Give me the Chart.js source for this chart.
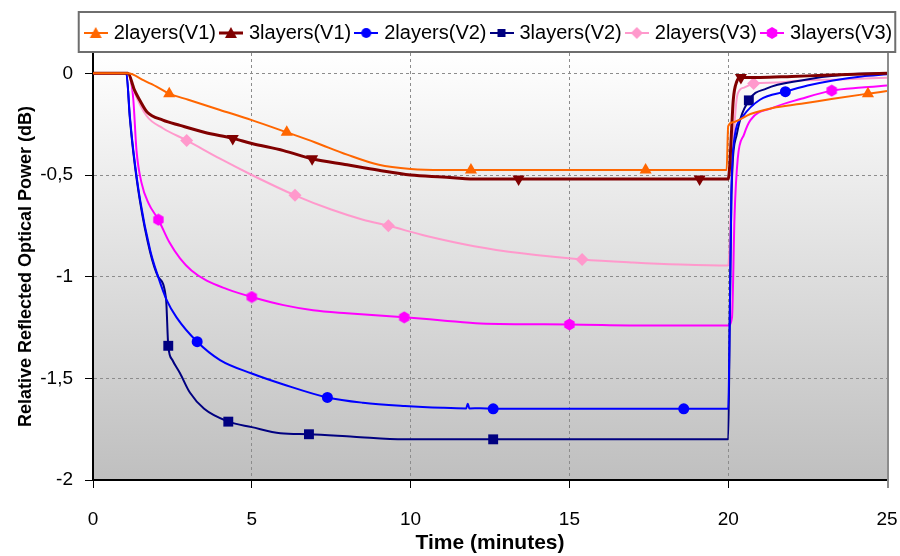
<!DOCTYPE html>
<html>
<head>
<meta charset="utf-8">
<script src="https://cdn.jsdelivr.net/npm/chart.js@4.4.1/dist/chart.umd.min.js"></script>
<style>
  body { margin: 0; background: #fff; }
  #wrap { width: 900px; height: 556px; }
</style>
</head>
<body>
<div id="wrap"><canvas id="chart" width="900" height="556"></canvas></div>
<script>
// Series names
const seriesNames = ['2layers(V1)', '3layers(V1)', '2layers(V2)', '3layers(V2)', '2layers(V3)', '3layers(V3)'];

// 2layers(V1)
const time2V1 = [0, 1.1, 1.6, 2.0, 2.4, 3.0, 4.0, 5.0, 6.1, 7.0, 8.0, 9.0, 10.0, 11.0, 11.9, 14.0, 17.4, 19.95, 20.0, 20.15, 20.7, 21.4, 22.3, 23.3, 24.4, 25];
const power2V1 = [0, 0, -0.035, -0.065, -0.1, -0.13, -0.18, -0.23, -0.29, -0.34, -0.4, -0.45, -0.47, -0.475, -0.475, -0.475, -0.475, -0.475, -0.26, -0.24, -0.2, -0.17, -0.15, -0.125, -0.1, -0.087];
const marks2V1 = [2.4, 6.1, 11.9, 17.4, 24.4];

// 3layers(V1)
const time3V1 = [0, 1.1, 1.3, 1.5, 1.7, 2.2, 2.74, 3.5, 4.4, 5.0, 6.0, 6.9, 8.0, 9.0, 10.0, 11.0, 12.0, 13.4, 16.0, 19.1, 20.0, 20.05, 20.1, 20.16, 20.27, 20.4, 21.0, 22.0, 23.0, 24.0, 25];
const power3V1 = [0, 0, -0.08, -0.14, -0.19, -0.23, -0.256, -0.29, -0.32, -0.345, -0.38, -0.42, -0.45, -0.477, -0.5, -0.51, -0.52, -0.52, -0.52, -0.52, -0.52, -0.45, -0.3, -0.13, -0.04, -0.02, -0.02, -0.015, -0.01, -0.005, 0];
const marks3V1 = [4.4, 6.9, 13.4, 19.1, 20.4];

// 2layers(V2)
const time2V2 = [0, 1.05, 1.16, 1.27, 1.48, 1.8, 2.05, 2.32, 2.63, 3.28, 4.0, 5.0, 6.0, 7.38, 8.5, 9.82, 11.0, 11.75, 11.8, 11.85, 12.2, 12.6, 15.0, 18.6, 20.0, 20.05, 20.1, 20.15, 20.47, 21.0, 21.8, 22.5, 23.3, 24.2, 25];
const power2V2 = [0, 0, -0.21, -0.38, -0.62, -0.87, -1.0, -1.115, -1.2, -1.32, -1.41, -1.476, -1.53, -1.594, -1.62, -1.636, -1.645, -1.648, -1.625, -1.648, -1.647, -1.65, -1.65, -1.65, -1.65, -1.2, -0.6, -0.38, -0.21, -0.13, -0.09, -0.06, -0.035, -0.015, -0.005];
const marks2V2 = [3.28, 7.38, 12.6, 18.6, 21.8];

// 3layers(V2)
const time3V2 = [0, 1.05, 1.16, 1.27, 1.48, 1.8, 2.05, 2.3, 2.37, 2.5, 2.74, 3.05, 3.5, 4.26, 5.0, 5.9, 6.8, 8.2, 9.8, 12.6, 16.0, 20.0, 20.05, 20.1, 20.27, 20.65, 21.2, 22.3, 23.8, 25];
const power3V2 = [0, 0, -0.22, -0.39, -0.63, -0.88, -1.0, -1.11, -1.34, -1.41, -1.475, -1.57, -1.65, -1.713, -1.74, -1.77, -1.775, -1.787, -1.8, -1.8, -1.8, -1.8, -1.2, -0.6, -0.3, -0.133, -0.075, -0.035, -0.005, 0];
const marks3V2 = [2.37, 4.26, 6.8, 12.6, 20.65];

// 2layers(V3)
const time2V3 = [0, 1.1, 1.27, 1.69, 2.2, 2.95, 4.0, 5.0, 6.36, 7.5, 8.5, 9.3, 10.5, 12.0, 13.5, 15.4, 17.0, 18.5, 20.0, 20.1, 20.2, 20.3, 20.5, 20.8, 21.5, 22.3, 23.5, 25];
const power2V3 = [0, 0, -0.08, -0.21, -0.27, -0.33, -0.42, -0.5, -0.6, -0.67, -0.72, -0.75, -0.8, -0.85, -0.885, -0.915, -0.93, -0.94, -0.945, -0.6, -0.25, -0.1, -0.07, -0.05, -0.045, -0.035, -0.03, -0.022];
const marks2V3 = [2.95, 6.36, 9.3, 15.4, 20.8];

// 3layers(V3)
const time3V3 = [0, 1.1, 1.2, 1.27, 1.37, 1.53, 1.75, 2.06, 2.4, 2.74, 3.1, 3.58, 4.2, 5.0, 6.0, 6.93, 8.0, 9.8, 11.0, 12.2, 15.0, 17.5, 20.0, 20.12, 20.2, 20.3, 20.5, 20.7, 21.4, 22.3, 23.26, 24.2, 25];
const power3V3 = [0, 0, -0.04, -0.13, -0.38, -0.54, -0.64, -0.72, -0.83, -0.91, -0.97, -1.02, -1.06, -1.1, -1.14, -1.165, -1.18, -1.2, -1.215, -1.23, -1.235, -1.24, -1.24, -1.2, -0.7, -0.42, -0.3, -0.23, -0.17, -0.125, -0.085, -0.07, -0.06];
const marks3V3 = [2.06, 5.0, 9.8, 15.0, 23.26];

// Axis ticks
const xTicks = [0, 5, 10, 15, 20, 25];
const yTicks = [-2, -1.5, -1, -0.5, 0];

const FONT = "'Liberation Sans', Arial, sans-serif";

// hexagon marker (Chart.js has none)
function hexMarker(color, size) {
    const c = document.createElement('canvas');
    c.width = size; c.height = size;
    const g = c.getContext('2d');
    const r = size / 2;
    g.fillStyle = color;
    g.beginPath();
    for (let i = 0; i < 6; i++) {
        const a = Math.PI / 6 + i * Math.PI / 3;
        const px = r + (r - 0.5) * Math.cos(a), py = r + (r - 0.5) * Math.sin(a);
        if (i === 0) g.moveTo(px, py); else g.lineTo(px, py);
    }
    g.closePath();
    g.fill();
    return c;
}

// legend icon: short line with the marker in the middle
function legendIcon(color, style, lineW) {
    const c = document.createElement('canvas');
    c.width = 24; c.height = 14;
    const g = c.getContext('2d');
    g.strokeStyle = color; g.fillStyle = color;
    g.lineWidth = lineW;
    g.beginPath(); g.moveTo(0, 7); g.lineTo(24, 7); g.stroke();
    g.beginPath();
    if (style === 'tri') { g.moveTo(12, 1); g.lineTo(18, 12); g.lineTo(6, 12); }
    else if (style === 'tridown') { g.moveTo(6, 2); g.lineTo(18, 2); g.lineTo(12, 13); }
    else if (style === 'circle') { g.arc(12, 7, 5, 0, Math.PI * 2); }
    else if (style === 'square') { g.rect(8, 3, 8, 8); }
    else if (style === 'diamond') { g.moveTo(12, 1); g.lineTo(18, 7); g.lineTo(12, 13); g.lineTo(6, 7); }
    else if (style === 'hex') {
        for (let i = 0; i < 6; i++) {
            const a = Math.PI / 6 + i * Math.PI / 3;
            g.lineTo(12 + 6 * Math.cos(a), 7 + 6 * Math.sin(a));
        }
    }
    g.closePath();
    g.fill();
    return c;
}

function pts(t, v) {
    return t.map((x, i) => ({ x: x, y: v[i] }));
}

function markerRadius(marks, r) {
    return ctx => (ctx.raw && marks.includes(ctx.raw.x)) ? r : 0;
}

const colors = ['#FF6600', '#800000', '#0000FF', '#000080', '#FF99CC', '#FF00FF'];
const icons = [
    legendIcon(colors[0], 'tri', 2),
    legendIcon(colors[1], 'tridown', 3),
    legendIcon(colors[2], 'circle', 2),
    legendIcon(colors[3], 'square', 2),
    legendIcon(colors[4], 'diamond', 2),
    legendIcon(colors[5], 'hex', 2)
];

function makeSet(i, t, v, marks, style, r, width, rot) {
    return {
        label: seriesNames[i],
        data: pts(t, v),
        borderColor: colors[i],
        backgroundColor: colors[i],
        borderWidth: width,
        pointStyle: style,
        pointRotation: rot || 0,
        pointRadius: markerRadius(marks, r),
        pointHoverRadius: markerRadius(marks, r),
        pointBorderWidth: 0,
        cubicInterpolationMode: 'monotone'
    };
}

// plot area background, gradient white -> grey
const plotBg = {
    id: 'plotBg',
    beforeDraw(chart) {
        const { ctx, chartArea: a } = chart;
        ctx.save();
        ctx.fillStyle = '#fff';
        ctx.fillRect(0, 0, chart.width, chart.height);
        const grad = ctx.createLinearGradient(0, a.top, 0, a.bottom);
        grad.addColorStop(0, '#ffffff');
        grad.addColorStop(1, '#bfbfbf');
        ctx.fillStyle = grad;
        ctx.fillRect(a.left, a.top, a.right - a.left, a.bottom - a.top);
        ctx.restore();
    }
};

// center the legend over the plot area
const legendShift = {
    id: 'legendShift',
    afterLayout(chart) {
        const lg = chart.legend;
        const mid = (chart.chartArea.left + chart.chartArea.right) / 2;
        const off = mid - (lg.left + lg.right) / 2;
        lg.left += off;
        lg.right += off;
    }
};

// frame around legend + right edge of plot
const frames = {
    id: 'frames',
    afterDraw(chart) {
        const { ctx, chartArea: a } = chart;
        const hb = chart.legend.legendHitBoxes;
        ctx.save();
        if (hb && hb.length) {
            const last = hb[hb.length - 1];
            const l = hb[0].left - 9, r = last.left + last.width + 3;
            ctx.strokeStyle = '#6e6e6e';
            ctx.lineWidth = 2;
            ctx.strokeRect(l, 12, r - l, a.top - 13);
        }
        ctx.strokeStyle = '#8c8c8c';
        ctx.lineWidth = 2;
        ctx.beginPath();
        ctx.moveTo(a.right + 1, a.top);
        ctx.lineTo(a.right + 1, a.bottom + 8);
        ctx.stroke();
        ctx.restore();
    }
};

const ctx = document.getElementById('chart').getContext('2d');
const chart = new Chart(ctx, {
    type: 'line',
    data: {
        datasets: [
            makeSet(0, time2V1, power2V1, marks2V1, 'triangle', 7, 2),
            makeSet(1, time3V1, power3V1, marks3V1, 'triangle', 7, 3, 180),
            makeSet(2, time2V2, power2V2, marks2V2, 'circle', 5.5, 2),
            makeSet(3, time3V2, power3V2, marks3V2, 'rect', 7, 2),
            makeSet(4, time2V3, power2V3, marks2V3, 'rectRot', 6.5, 2),
            makeSet(5, time3V3, power3V3, marks3V3, hexMarker(colors[5], 13), 6, 2)
        ]
    },
    options: {
        responsive: false,
        animation: false,
        layout: { padding: { top: 16, left: 11, right: 0, bottom: 0 } },
        plugins: {
            legend: {
                position: 'top',
                labels: {
                    usePointStyle: true,
                    pointStyleWidth: 16,
                    padding: 7,
                    color: '#000',
                    font: { family: FONT, size: 20 },
                    generateLabels(chart) {
                        const items = Chart.defaults.plugins.legend.labels.generateLabels(chart);
                        items.forEach((it, i) => { it.pointStyle = icons[i]; });
                        return items;
                    }
                }
            },
            tooltip: { enabled: false }
        },
        scales: {
            x: {
                type: 'linear',
                min: 0,
                max: 25,
                afterBuildTicks: s => { s.ticks = xTicks.map(v => ({ value: v })); },
                afterFit: s => { s.height = 76; s.paddingRight = 13; s.paddingLeft = 0; },
                ticks: {
                    color: '#000',
                    padding: 20,
                    font: { family: FONT, size: 19 }
                },
                grid: {
                    color: c => (c.tick && (c.tick.value === 0 || c.tick.value === 25)) ? 'rgba(0,0,0,0)' : '#8c8c8c',
                    lineWidth: 1,
                    tickLength: 8,
                    tickColor: '#000'
                },
                border: { color: '#000', width: 2, dash: [3, 3] },
                title: {
                    display: true,
                    text: 'Time (minutes)',
                    color: '#000',
                    font: { family: FONT, size: 21, weight: 'bold' },
                    padding: { top: 0, bottom: 0 }
                }
            },
            y: {
                min: -2,
                max: 0.1,
                afterBuildTicks: s => { s.ticks = yTicks.map(v => ({ value: v })); },
                afterFit: s => { s.width = 82; },
                ticks: {
                    color: '#000',
                    padding: 12,
                    font: { family: FONT, size: 19 },
                    callback: v => String(v).replace('.', ',')
                },
                grid: {
                    color: c => (c.tick && c.tick.value === -2) ? 'rgba(0,0,0,0)' : '#8c8c8c',
                    lineWidth: 1,
                    tickLength: 8,
                    tickColor: '#000'
                },
                border: { color: '#000', width: 2, dash: [3, 3] },
                title: {
                    display: true,
                    text: 'Relative Reflected Optical Power (dB)',
                    color: '#000',
                    font: { family: FONT, size: 18, weight: 'bold' },
                    padding: { top: 4, bottom: 0 }
                }
            }
        }
    },
    plugins: [plotBg, legendShift, frames]
});
</script>
</body>
</html>
